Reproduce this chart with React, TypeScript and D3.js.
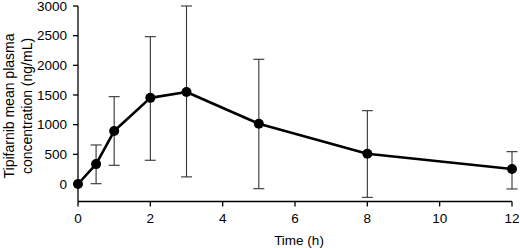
import React from "react";
import * as d3 from "d3";

const times = [0, 0.5, 1, 2, 3, 5, 8, 12];
const means = [0, 335, 893, 1452, 1551, 1015, 510, 252];
const upper = [0, 658, 1472, 2483, 3000, 2102, 1236, 545];
const lower = [0, 5, 315, 400, 120, -79, -225, -84];
const xTicks = [0, 2, 4, 6, 8, 10, 12];
const yTicks = [0, 500, 1000, 1500, 2000, 2500, 3000];
const yTitle = ["Tipifarnib mean plasma", "concentration (ng/mL)"];
const xTitle = "Time (h)";

const W = 520;
const H = 248;

export default function App() {
  const x = d3.scaleLinear().domain([0, 12]).range([78, 512]);
  const y = d3.scaleLinear().domain([0, 3000]).range([184, 6]);
  const axisY = 201.5;
  const font = "Liberation Sans, Arial, Helvetica, sans-serif";
  const line = d3
    .line<number>()
    .x((_, i) => x(times[i]))
    .y((d) => y(d));
  const cap = 5.5;
  return (
    <svg
      width={W}
      height={H}
      style={{ position: "absolute", left: 0, top: 0, background: "#fff" }}
      fontFamily={font}
    >
      {/* error bars */}
      {times.map((t, i) =>
        upper[i] === lower[i] ? null : (
          <g key={"e" + i} stroke="#333" strokeWidth={1.1}>
            <line x1={x(t)} x2={x(t)} y1={y(upper[i])} y2={y(lower[i])} />
            <line x1={x(t) - cap} x2={x(t) + cap} y1={y(upper[i])} y2={y(upper[i])} />
            <line x1={x(t) - cap} x2={x(t) + cap} y1={y(lower[i])} y2={y(lower[i])} />
          </g>
        )
      )}
      <path d={line(means) || ""} fill="none" stroke="#000" strokeWidth={2.6} strokeLinejoin="round" />
      {times.map((t, i) => (
        <circle key={"c" + i} cx={x(t)} cy={y(means[i])} r={5} fill="#000" />
      ))}
      {/* y axis */}
      <line x1={78} x2={78} y1={y(3000)} y2={axisY} stroke="#000" strokeWidth={1.3} />
      {yTicks.map((v) => (
        <g key={"y" + v}>
          <line x1={73} x2={78} y1={y(v)} y2={y(v)} stroke="#000" strokeWidth={1.3} />
          <text x={67} y={y(v)} dy="0.35em" textAnchor="end" fontSize={13.5} fill="#000">
            {v}
          </text>
        </g>
      ))}
      {/* x axis */}
      <line x1={78} x2={x(12)} y1={axisY} y2={axisY} stroke="#000" strokeWidth={1.3} />
      {xTicks.map((v) => (
        <g key={"x" + v}>
          <line x1={x(v)} x2={x(v)} y1={axisY} y2={axisY + 5} stroke="#000" strokeWidth={1.3} />
          <text x={x(v)} y={218} dy="0.35em" textAnchor="middle" fontSize={13.5} fill="#000">
            {v}
          </text>
        </g>
      ))}
      <text x={299} y={240} dy="0.35em" textAnchor="middle" fontSize={13.5} fill="#000">
        {xTitle}
      </text>
      {yTitle.map((s, i) => (
        <text
          key={"t" + i}
          transform={`translate(${9 + i * 18},106) rotate(-90)`}
          dy="0.35em"
          textAnchor="middle"
          fontSize={14}
          fill="#000"
        >
          {s}
        </text>
      ))}
    </svg>
  );
}
